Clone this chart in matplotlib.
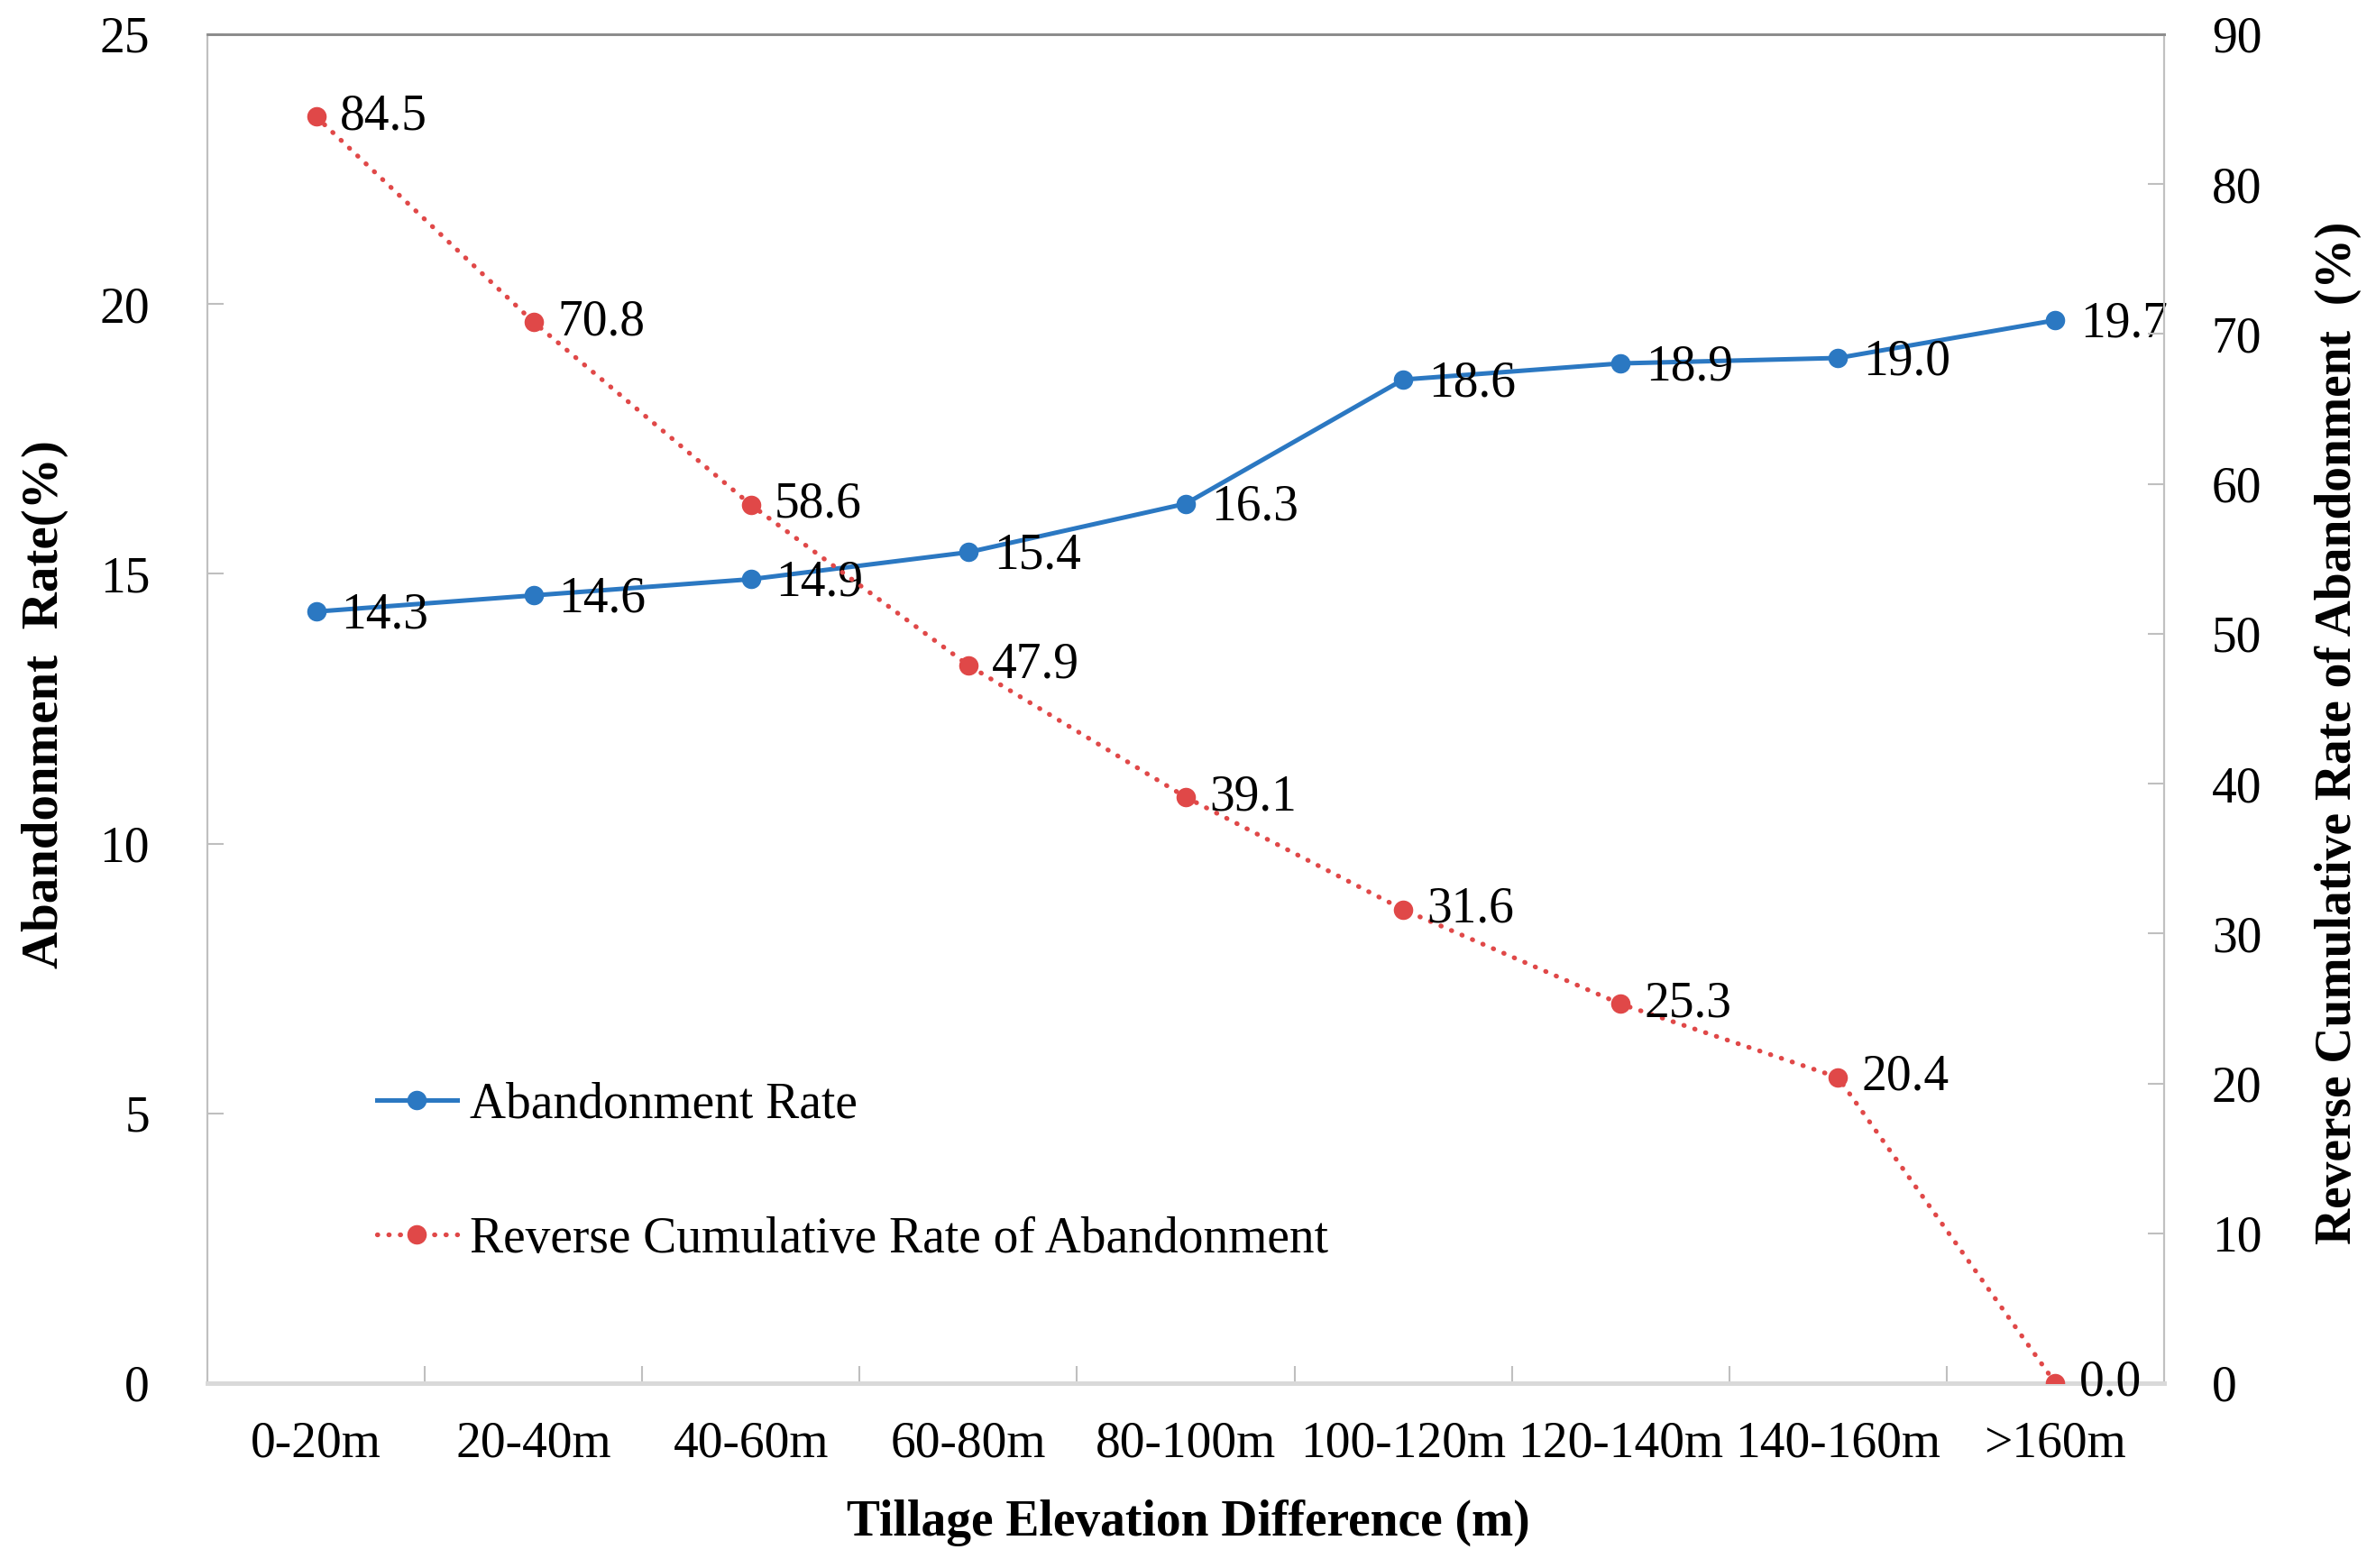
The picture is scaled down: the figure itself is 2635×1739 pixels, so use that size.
import matplotlib
matplotlib.use("Agg")
import matplotlib.pyplot as plt
import numpy as np

categories = ["0-20m", "20-40m", "40-60m", "60-80m", "80-100m",
              "100-120m", "120-140m", "140-160m", ">160m"]
abandonment_rate = [14.3, 14.6, 14.9, 15.4, 16.3, 18.6, 18.9, 19.0, 19.7]
reverse_cumulative = [84.5, 70.8, 58.6, 47.9, 39.1, 31.6, 25.3, 20.4, 0.0]
left_ticks = [0, 5, 10, 15, 20, 25]
right_ticks = [0, 10, 20, 30, 40, 50, 60, 70, 80, 90]

plt.rcParams['font.family'] = ['Liberation Serif', 'DejaVu Serif']
FS = 40
BLUE = '#2b78c2'
RED = '#e04848'

fig = plt.figure(figsize=(26.35, 17.39), dpi=100)
ax = fig.add_axes([230/2635, 1-1534/1739, 2170/2635, (1534-38)/1739])
ax2 = ax.twinx()

x = np.arange(len(categories))
l1, = ax.plot(x, abandonment_rate, color=BLUE, lw=3.6, marker='o', ms=14.5,
              label='Abandonment Rate', zorder=3)
l2, = ax2.plot(x, reverse_cumulative, color=RED, lw=3.8, linestyle=(0, (0.1, 2.3)),
               dash_capstyle='round', marker='o', ms=14.5,
               label='Reverse Cumulative Rate of Abandonment', zorder=3)

for xi, v in zip(x, abandonment_rate):
    ax.annotate(f"{v:.1f}", (xi, v), xytext=(20, -3), textcoords='offset points',
                ha='left', va='center', fontsize=FS, color='black')
for xi, v in zip(x, reverse_cumulative):
    ax2.annotate(f"{v:.1f}", (xi, v), xytext=(19, 0), textcoords='offset points',
                 ha='left', va='center', fontsize=FS, color='black')

ax.set_xlim(-0.5, len(categories) - 0.5)
ax.set_ylim(0, 25)
ax2.set_ylim(0, 90)
ax.set_yticks(left_ticks)
ax2.set_yticks(right_ticks)
ax.set_xticks(x)
ax.set_xticklabels(categories, fontsize=FS)
ax.set_xticks(np.arange(0.5, len(categories) - 1, 1.0), minor=True)
ax.tick_params(axis='x', which='major', length=0, pad=30)
ax.tick_params(axis='x', which='minor', direction='in', length=14, width=1.5, color='#bfbfbf')
ax.tick_params(axis='y', direction='in', length=13, width=1.5, color='#bfbfbf',
               labelsize=FS, pad=46)
ax2.tick_params(axis='y', direction='in', length=13, width=1.5, color='#bfbfbf',
                labelsize=FS, pad=38)

for a in (ax, ax2):
    a.spines['top'].set_color('#8c8c8c')
    a.spines['top'].set_linewidth(2)
    a.spines['left'].set_color('#c0c0c0')
    a.spines['left'].set_linewidth(1.5)
    a.spines['right'].set_color('#c0c0c0')
    a.spines['right'].set_linewidth(1.5)
    a.spines['bottom'].set_color('#d9d9d9')
    a.spines['bottom'].set_linewidth(3.5)

fig.text(1318/2635, 1-1689/1739, 'Tillage Elevation Difference (m)', ha='center', va='center',
         fontsize=FS, fontweight='bold')
fig.text(50/2635, 1-781/1739, 'Abandonment  Rate(%)', ha='center', va='center',
         rotation=90, fontsize=41, fontweight='bold')
fig.text(2593/2635, 1-813/1739, 'Reverse Cumulative Rate of Abandonment  (%)', ha='center',
         va='center', rotation=90, fontsize=FS, fontweight='bold')

leg = ax2.legend(handles=[l1, l2], loc='center left', bbox_to_anchor=(418/2635, 1-1300/1739),
                 bbox_transform=fig.transFigure, frameon=False, fontsize=FS,
                 handlelength=1.6, handletextpad=0.25, labelspacing=1.75,
                 borderpad=0, borderaxespad=0)

fig.savefig('out.png', dpi=100, facecolor='white')
